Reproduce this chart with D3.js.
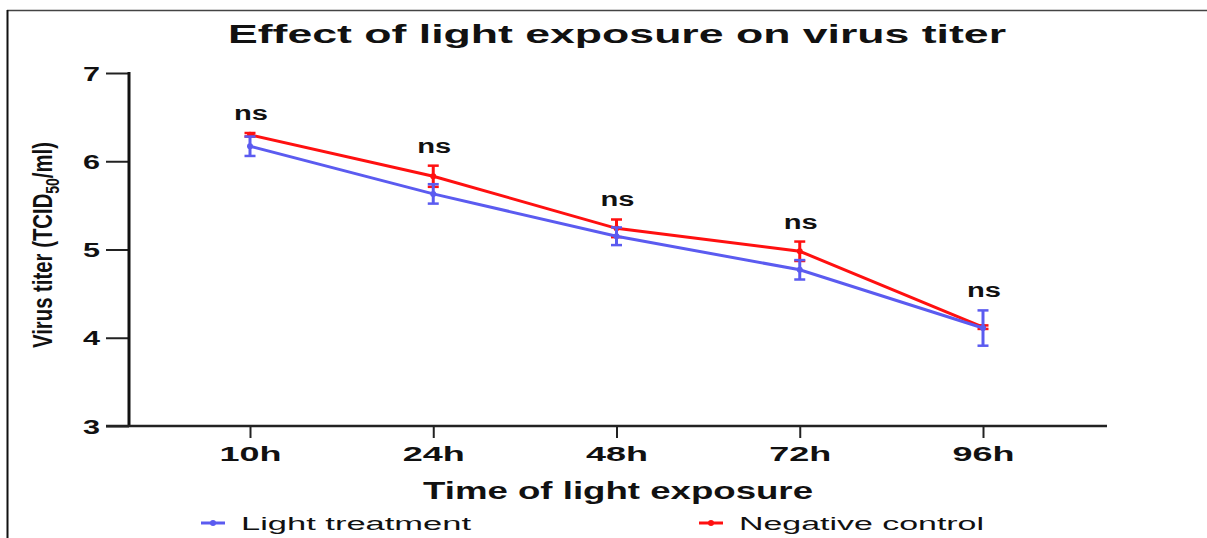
<!DOCTYPE html>
<html>
<head>
<meta charset="utf-8">
<script src="https://cdn.jsdelivr.net/npm/d3@7"></script>
<style>
  body { margin: 0; background: #fff; }
  svg { display: block; font-family: "Liberation Sans", Arial, sans-serif; }
</style>
</head>
<body>
<svg id="chart" width="1207" height="538"></svg>
<script>
// data
var times = ["10h", "24h", "48h", "72h", "96h"];
var lightMean = [6.17, 5.63, 5.15, 4.77, 4.11];
var lightErr  = [0.11, 0.11, 0.10, 0.11, 0.20];
var controlMean = [6.30, 5.83, 5.24, 4.98, 4.12];
var controlErr  = [0.02, 0.12, 0.10, 0.11, 0.02];
var sigLabels = ["ns", "ns", "ns", "ns", "ns"];
var yTicks = [3, 4, 5, 6, 7];

var svg = d3.select("#chart");

// frame lines of the original figure
svg.append("line").attr("x1", 7).attr("y1", 10.5).attr("x2", 1207).attr("y2", 10.5)
    .attr("stroke", "#444").attr("stroke-width", 1.5);
svg.append("line").attr("x1", 7.5).attr("y1", 10).attr("x2", 7.5).attr("y2", 538)
    .attr("stroke", "#111").attr("stroke-width", 2);

var x = d3.scalePoint().domain(times).range([250, 983]);
var y = d3.scaleLinear().domain([3, 7]).range([426, 73]);

// y axis
var gy = svg.append("g").attr("transform", "translate(129,0)")
    .call(d3.axisLeft(y).tickValues(yTicks).tickSize(23).tickPadding(6).tickFormat(d3.format("d")));
gy.select(".domain").remove();
gy.selectAll(".tick line").attr("stroke", "#222").attr("stroke-width", 2);
gy.selectAll(".tick text").attr("font-size", 20).attr("font-weight", "bold").attr("fill", "#111")
    .attr("textLength", 17).attr("lengthAdjust", "spacingAndGlyphs").attr("dy", "0.36em");
svg.append("line").attr("x1", 129).attr("x2", 129).attr("y1", 72).attr("y2", 427)
    .attr("stroke", "#111").attr("stroke-width", 3);

// x axis
var gx = svg.append("g").attr("transform", "translate(0,426)")
    .call(d3.axisBottom(x).tickSize(12).tickPadding(8));
gx.select(".domain").remove();
gx.selectAll(".tick line").attr("stroke", "#222").attr("stroke-width", 2);
gx.selectAll(".tick text").attr("font-size", 20).attr("font-weight", "bold").attr("fill", "#111")
    .attr("textLength", 62).attr("lengthAdjust", "spacingAndGlyphs").attr("dy", "0.75em");
svg.append("line").attr("x1", 106).attr("x2", 1107).attr("y1", 426).attr("y2", 426)
    .attr("stroke", "#222").attr("stroke-width", 2.5);

// title and axis labels
svg.append("text").attr("x", 617).attr("y", 43).attr("text-anchor", "middle")
    .attr("font-size", 25).attr("font-weight", "bold").attr("fill", "#111")
    .attr("textLength", 778).attr("lengthAdjust", "spacingAndGlyphs")
    .text("Effect of light exposure on virus titer");

svg.append("text").attr("x", 618).attr("y", 499).attr("text-anchor", "middle")
    .attr("font-size", 23).attr("font-weight", "bold").attr("fill", "#111")
    .attr("textLength", 390).attr("lengthAdjust", "spacingAndGlyphs")
    .text("Time of light exposure");

var yl = svg.append("text").attr("text-anchor", "middle")
    .attr("transform", "translate(52,245) scale(1.7,1) rotate(-90)")
    .attr("font-size", 16).attr("font-weight", "bold").attr("fill", "#111")
    .attr("textLength", 206).attr("lengthAdjust", "spacingAndGlyphs");
yl.append("tspan").text("Virus titer (TCID");
yl.append("tspan").attr("font-size", 11).attr("dy", 4).text("50");
yl.append("tspan").attr("dy", -4).text("/ml)");

// series
var series = [
    {name: "Negative control", color: "#ff1010", mean: controlMean, err: controlErr},
    {name: "Light treatment", color: "#5b5bf0", mean: lightMean, err: lightErr}
];

var line = d3.line()
    .x(function (d) { return x(d.t); })
    .y(function (d) { return y(d.v); });

series.forEach(function (s) {
    var pts = times.map(function (t, i) { return {t: t, v: s.mean[i], e: s.err[i]}; });
    var g = svg.append("g");
    g.append("path").datum(pts).attr("d", line)
        .attr("fill", "none").attr("stroke", s.color).attr("stroke-width", 3);

    var eb = g.selectAll(".eb").data(pts).enter().append("g");
    eb.append("line")
        .attr("x1", function (d) { return x(d.t); }).attr("x2", function (d) { return x(d.t); })
        .attr("y1", function (d) { return y(d.v + d.e); }).attr("y2", function (d) { return y(d.v - d.e); })
        .attr("stroke", s.color).attr("stroke-width", 3);
    [1, -1].forEach(function (sign) {
        eb.append("line")
            .attr("x1", function (d) { return x(d.t) - 5.5; }).attr("x2", function (d) { return x(d.t) + 5.5; })
            .attr("y1", function (d) { return y(d.v + sign * d.e); })
            .attr("y2", function (d) { return y(d.v + sign * d.e); })
            .attr("stroke", s.color).attr("stroke-width", 2.5);
    });
    g.selectAll("circle").data(pts).enter().append("circle")
        .attr("cx", function (d) { return x(d.t); }).attr("cy", function (d) { return y(d.v); })
        .attr("r", 3).attr("fill", s.color);
});

// significance labels above the higher error bar
svg.selectAll(".sig").data(times).enter().append("text")
    .attr("x", function (d) { return x(d) + 1; })
    .attr("y", function (d, i) {
        var top = Math.max(lightMean[i] + lightErr[i], controlMean[i] + controlErr[i]);
        return y(top) - 13;
    })
    .attr("text-anchor", "middle").attr("font-size", 20).attr("font-weight", "bold").attr("fill", "#111")
    .attr("textLength", 34).attr("lengthAdjust", "spacingAndGlyphs")
    .text(function (d, i) { return sigLabels[i]; });

// legend
var legend = [
    {name: "Light treatment", color: "#5b5bf0", x: 201, w: 230},
    {name: "Negative control", color: "#ff1010", x: 699, w: 245}
];
legend.forEach(function (l) {
    svg.append("line").attr("x1", l.x).attr("x2", l.x + 24).attr("y1", 523).attr("y2", 523)
        .attr("stroke", l.color).attr("stroke-width", 3);
    svg.append("circle").attr("cx", l.x + 12).attr("cy", 523).attr("r", 3).attr("fill", l.color);
    svg.append("text").attr("x", l.x + 40).attr("y", 530)
        .attr("font-size", 18).attr("fill", "#111")
        .attr("textLength", l.w).attr("lengthAdjust", "spacingAndGlyphs")
        .text(l.name);
});
</script>
</body>
</html>
